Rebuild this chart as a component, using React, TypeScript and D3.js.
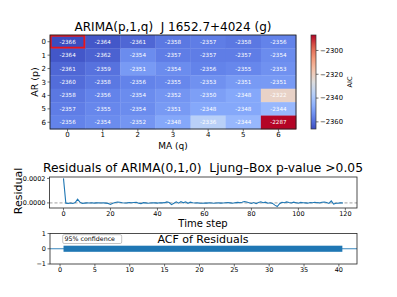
import React from "react";
import * as d3 from "d3";

const arLabels = ["0", "1", "2", "3", "4", "5", "6"];
const maLabels = ["0", "1", "2", "3", "4", "5", "6"];
const aicRows: number[][] = [
  [-2366, -2364, -2361, -2358, -2357, -2358, -2356],
  [-2364, -2362, -2354, -2357, -2357, -2357, -2354],
  [-2361, -2359, -2351, -2354, -2356, -2355, -2353],
  [-2360, -2358, -2356, -2355, -2353, -2351, -2351],
  [-2358, -2356, -2354, -2352, -2350, -2348, -2322],
  [-2357, -2355, -2354, -2351, -2348, -2348, -2344],
  [-2356, -2354, -2352, -2348, -2336, -2344, -2287],
];
const bestCell = { p: 0, q: 0 };
const colorbarTicks = [-2300, -2320, -2340, -2360];

const residuals = [
  200e-6, -2e-6, -4e-6, -1e-6, -5e-6, 3e-6, 30e-6, 6e-6, -4e-6, -2e-6,
  0, -1e-6, 1e-6, -2e-6, 0, 1e-6, -1e-6, 0, -2e-6, -4e-6,
  -12e-6, -3e-6, 4e-6, 7e-6, 5e-6, 1e-6, -1e-6, 0, 2e-6, 1e-6,
  3e-6, 5e-6, -2e-6, -6e-6, 2e-6, 0, -3e-6, -1e-6, 1e-6, 0,
  -2e-6, 1e-6, 0, 2e-6, 8e-6, 3e-6, -14e-6, -3e-6, 9e-6, -2e-6,
  11e-6, 1e-6, 9e-6, -3e-6, 6e-6, 1e-6, -1e-6, 0, -2e-6, -3e-6,
  -1e-6, -2e-6, 0, -1e-6, -3e-6, -1e-6, 0, -2e-6, -1e-6, 1e-6,
  2e-6, 0, -3e-6, 1e-6, 4e-6, 2e-6, 6e-6, 12e-6, 8e-6, 2e-6,
  -4e-6, 3e-6, -6e-6, 4e-6, 9e-6, 2e-6, 6e-6, -3e-6, 1e-6, -4e-6,
  -18e-6, -30e-6, -6e-6, 5e-6, 2e-6, 8e-6, 3e-6, -1e-6, 6e-6, 2e-6,
  -2e-6, 4e-6, 1e-6, 0, -2e-6, 3e-6, 1e-6, 5e-6, 2e-6, 0,
  6e-6, 8e-6, 3e-6, -4e-6, 16e-6, -10e-6, -3e-6, -2e-6, 0, -1e-6,
];
const residualXTicks = [0, 20, 40, 60, 80, 100, 120];
const residualYTicks = [0, 0.0002];
const acfXTicks = [0, 5, 10, 15, 20, 25, 30, 35, 40];
const acfYTicks = [1, 0, -1];
const acfMaxLag = 40;
const confLevel = 0.2;

// matplotlib "coolwarm" reference stops
const coolwarmStops = [
  [0, "rgb(59,76,192)"],
  [0.125, "rgb(98,130,234)"],
  [0.25, "rgb(141,176,254)"],
  [0.375, "rgb(184,208,249)"],
  [0.5, "rgb(221,221,221)"],
  [0.625, "rgb(245,196,172)"],
  [0.75, "rgb(244,154,123)"],
  [0.875, "rgb(222,96,77)"],
  [1, "rgb(180,4,38)"],
] as const;
const coolwarm = d3
  .scaleLinear<string>()
  .domain(coolwarmStops.map((d) => d[0]))
  .range(coolwarmStops.map((d) => d[1]))
  .interpolate(d3.interpolateRgb);

const FONT = "DejaVu Sans, Liberation Sans, sans-serif";
const pre = { whiteSpace: "pre" as const };

export default function App() {
  // ---------- Heatmap ----------
  const hm = { left: 50, right: 296, top: 35, bottom: 129 };
  const xb = d3.scaleBand<string>().domain(maLabels).range([hm.left, hm.right]);
  const yb = d3.scaleBand<string>().domain(arLabels).range([hm.top, hm.bottom]);
  const flat = aicRows.flat();
  const vmin = d3.min(flat)!;
  const vmax = d3.max(flat)!;
  const norm = d3.scaleLinear().domain([vmin, vmax]).range([0, 1]);
  const color = (v: number) => coolwarm(norm(v));

  const cb = { left: 311, right: 316, top: hm.top, bottom: hm.bottom };
  const cbY = d3.scaleLinear().domain([vmin, vmax]).range([cb.bottom, cb.top]);
  const gradStops = d3.range(0, 1.0001, 0.05);

  // ---------- Residuals ----------
  const rs = { left: 49.5, right: 357, top: 177, bottom: 208 };
  const n = residuals.length;
  const xPad = (n - 1) * 0.05;
  const rx = d3.scaleLinear().domain([-xPad, n - 1 + xPad]).range([rs.left, rs.right]);
  const [rmin, rmax] = d3.extent(residuals) as [number, number];
  const rPad = (rmax - rmin) * 0.05;
  const ry = d3.scaleLinear().domain([rmin - rPad, rmax + rPad]).range([rs.bottom, rs.top]);
  const line = d3
    .line<number>()
    .x((_, i) => rx(i))
    .y((d) => ry(d));

  // ---------- ACF ----------
  const ac = { left: 50, right: 357, top: 233.5, bottom: 264 };
  const ax = d3.scaleLinear().domain([-1.44, 42.6]).range([ac.left, ac.right]);
  const ay = d3.scaleLinear().domain([-1, 1]).range([ac.bottom, ac.top]);

  const tickFont = 6.5;

  return (
    <svg
      width={397}
      height={297}
      style={{ position: "absolute", left: 0, top: 0, background: "#fff" }}
      fontFamily={FONT}
    >
      <defs>
        <linearGradient id="cbgrad" x1="0" y1="1" x2="0" y2="0">
          {gradStops.map((t) => (
            <stop key={t} offset={t} stopColor={coolwarm(t)} />
          ))}
        </linearGradient>
      </defs>

      {/* Heatmap title */}
      <text x={173} y={31} fontSize={12} textAnchor="middle" fill="#000" style={pre}>
        {"ARIMA(p,1,q)  J 1652.7+4024 (g)"}
      </text>

      {aicRows.map((row, p) =>
        row.map((v, q) => (
          <g key={`${p}-${q}`}>
            <rect
              x={xb(maLabels[q])!}
              y={yb(arLabels[p])!}
              width={xb.bandwidth() + 0.3}
              height={yb.bandwidth() + 0.3}
              fill={color(v)}
            />
            <text
              x={xb(maLabels[q])! + xb.bandwidth() / 2}
              y={yb(arLabels[p])! + yb.bandwidth() / 2 + 2}
              fontSize={5.6}
              textAnchor="middle"
              fill="#fff"
            >
              {String(v)}
            </text>
          </g>
        ))
      )}
      <rect
        x={xb(maLabels[bestCell.q])! + 0.8}
        y={yb(arLabels[bestCell.p])! + 0.8}
        width={xb.bandwidth() - 1.6}
        height={yb.bandwidth() - 1.6}
        fill="none"
        stroke="#e8141c"
        strokeWidth={1.8}
      />
      <rect
        x={hm.left}
        y={hm.top}
        width={hm.right - hm.left}
        height={hm.bottom - hm.top}
        fill="none"
        stroke="#222"
        strokeWidth={0.9}
      />
      {arLabels.map((l) => (
        <g key={l}>
          <line
            x1={hm.left - 2.5}
            x2={hm.left}
            y1={yb(l)! + yb.bandwidth() / 2}
            y2={yb(l)! + yb.bandwidth() / 2}
            stroke="#333"
            strokeWidth={0.7}
          />
          <text
            x={hm.left - 4}
            y={yb(l)! + yb.bandwidth() / 2 + 2.5}
            fontSize={7}
            textAnchor="end"
            fill="#000"
          >
            {l}
          </text>
        </g>
      ))}
      {maLabels.map((l) => (
        <g key={l}>
          <line
            x1={xb(l)! + xb.bandwidth() / 2}
            x2={xb(l)! + xb.bandwidth() / 2}
            y1={hm.bottom}
            y2={hm.bottom + 2.5}
            stroke="#333"
            strokeWidth={0.7}
          />
          <text
            x={xb(l)! + xb.bandwidth() / 2}
            y={hm.bottom + 8}
            fontSize={7}
            textAnchor="middle"
            fill="#000"
          >
            {l}
          </text>
        </g>
      ))}
      <text x={173} y={149} fontSize={9} textAnchor="middle" fill="#000">
        MA (q)
      </text>
      <text
        transform={`translate(37.5,82) rotate(-90)`}
        fontSize={9.5}
        textAnchor="middle"
        fill="#000"
      >
        AR (p)
      </text>

      {/* Colorbar */}
      <rect
        x={cb.left}
        y={cb.top}
        width={cb.right - cb.left}
        height={cb.bottom - cb.top}
        fill="url(#cbgrad)"
        stroke="#333"
        strokeWidth={0.7}
      />
      {colorbarTicks.map((t) => (
        <g key={t}>
          <line x1={cb.right} x2={cb.right + 2.5} y1={cbY(t)} y2={cbY(t)} stroke="#333" strokeWidth={0.7} />
          <text x={cb.right + 4} y={cbY(t) + 2.4} fontSize={6.8} fill="#000">
            {"\u2212" + String(Math.abs(t))}
          </text>
        </g>
      ))}
      <text transform={`translate(352,82) rotate(-90)`} fontSize={6.5} textAnchor="middle" fill="#000">
        AIC
      </text>

      {/* Residuals */}
      <text x={203} y={172} fontSize={12.3} textAnchor="middle" fill="#000" style={pre}>
        {"Residuals of ARIMA(0,1,0)  Ljung–Box p-value >0.05"}
      </text>
      <line x1={rs.left} x2={rs.right} y1={ry(0)} y2={ry(0)} stroke="#888" strokeWidth={0.8} strokeDasharray="3,2" />
      <clipPath id="rclip">
        <rect x={rs.left} y={rs.top} width={rs.right - rs.left} height={rs.bottom - rs.top} />
      </clipPath>
      <path d={line(residuals)!} fill="none" stroke="#1f77b4" strokeWidth={1.1} clipPath="url(#rclip)" />
      <rect
        x={rs.left}
        y={rs.top}
        width={rs.right - rs.left}
        height={rs.bottom - rs.top}
        fill="none"
        stroke="#222"
        strokeWidth={0.8}
      />
      {residualXTicks.map((t) => (
        <g key={t}>
          <line x1={rx(t)} x2={rx(t)} y1={rs.bottom} y2={rs.bottom + 2.5} stroke="#333" strokeWidth={0.7} />
          <text x={rx(t)} y={rs.bottom + 7.5} fontSize={tickFont} textAnchor="middle" fill="#000">
            {t}
          </text>
        </g>
      ))}
      {residualYTicks.map((t) => (
        <g key={t}>
          <line x1={rs.left - 2.5} x2={rs.left} y1={ry(t)} y2={ry(t)} stroke="#333" strokeWidth={0.7} />
          <text x={rs.left - 4} y={ry(t) + 2.3} fontSize={tickFont} textAnchor="end" fill="#000">
            {t.toFixed(4)}
          </text>
        </g>
      ))}
      <text x={203} y={226.5} fontSize={10} textAnchor="middle" fill="#000">
        Time step
      </text>
      <text transform={`translate(22,191) rotate(-90)`} fontSize={11} textAnchor="middle" fill="#000">
        Residual
      </text>

      {/* ACF */}
      <line x1={ac.left} x2={ac.right} y1={ay(0)} y2={ay(0)} stroke="#1f77b4" strokeWidth={0.9} />
      <rect
        x={ax(0.5)}
        y={ay(confLevel)}
        width={ax(acfMaxLag + 0.5) - ax(0.5)}
        height={ay(-confLevel) - ay(confLevel)}
        fill="#1f77b4"
      />
      <text x={203} y={243} fontSize={11} textAnchor="middle" fill="#000">
        ACF of Residuals
      </text>
      <rect x={62.7} y={234.7} width={59} height={8.8} rx={1.5} fill="#fff" fillOpacity={0.85} stroke="#aaa" strokeWidth={0.7} />
      <text x={64.5} y={241.4} fontSize={6.3} fill="#000">
        95% confidence
      </text>
      <rect
        x={ac.left}
        y={ac.top}
        width={ac.right - ac.left}
        height={ac.bottom - ac.top}
        fill="none"
        stroke="#222"
        strokeWidth={0.8}
      />
      {acfXTicks.map((t) => (
        <g key={t}>
          <line x1={ax(t)} x2={ax(t)} y1={ac.bottom} y2={ac.bottom + 2.5} stroke="#333" strokeWidth={0.7} />
          <text x={ax(t)} y={ac.bottom + 7.5} fontSize={tickFont} textAnchor="middle" fill="#000">
            {t}
          </text>
        </g>
      ))}
      {acfYTicks.map((t) => (
        <g key={t}>
          <line x1={ac.left - 2.5} x2={ac.left} y1={ay(t)} y2={ay(t)} stroke="#333" strokeWidth={0.7} />
          <text x={ac.left - 4} y={ay(t) + 2.3} fontSize={tickFont} textAnchor="end" fill="#000">
            {t < 0 ? "\u2212" + String(Math.abs(t)) : String(t)}
          </text>
        </g>
      ))}
    </svg>
  );
}
